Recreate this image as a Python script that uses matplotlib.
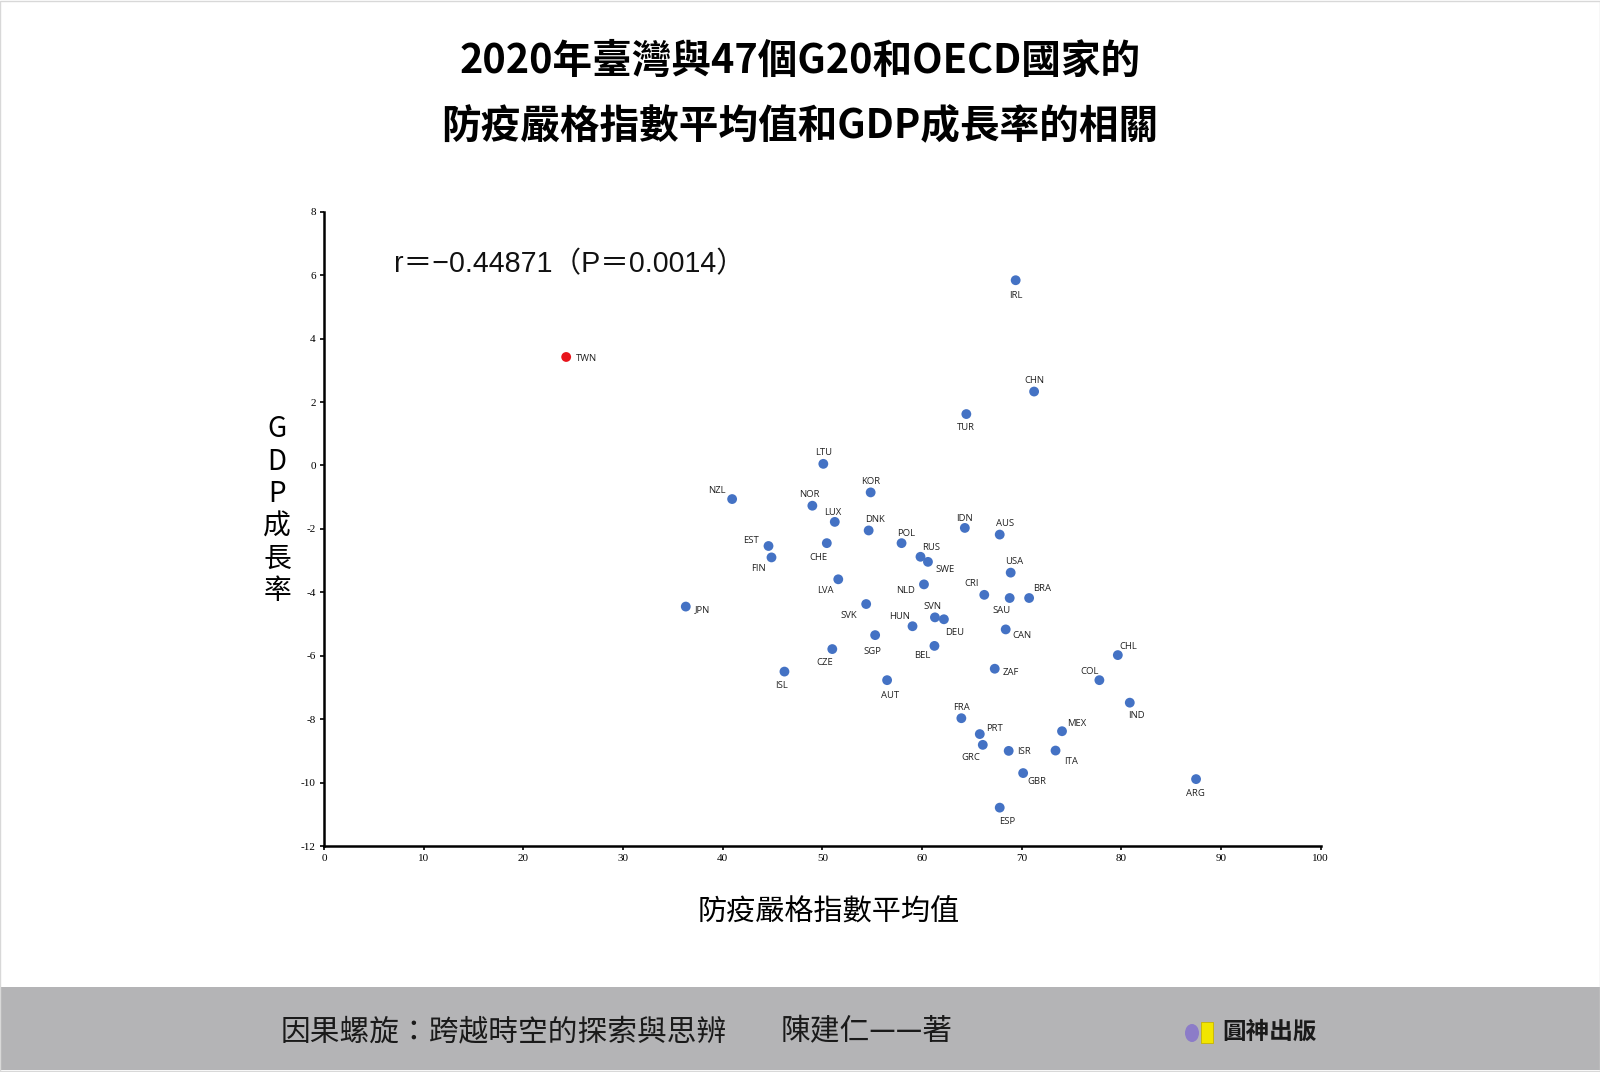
import matplotlib
matplotlib.use("Agg")
import matplotlib.pyplot as plt
from matplotlib.patches import Rectangle, Ellipse

plt.rcParams['font.family'] = ['Noto Sans CJK TC', 'DejaVu Sans']

# ---------------- data ----------------
countries = ["TWN", "NZL", "JPN", "IRL", "CHN", "TUR", "LTU", "KOR", "NOR", "LUX",
             "DNK", "IDN", "AUS", "EST", "FIN", "CHE", "POL", "RUS", "SWE", "USA",
             "LVA", "NLD", "CRI", "SAU", "BRA", "SVK", "SVN", "DEU", "HUN", "CAN",
             "SGP", "BEL", "CZE", "ZAF", "ISL", "AUT", "FRA", "PRT", "GRC", "ISR",
             "GBR", "ESP", "MEX", "ITA", "CHL", "COL", "IND", "ARG"]
stringency = [24.3, 40.95, 36.3, 69.4, 71.25, 64.45, 50.1, 54.85, 49.0, 51.25,
              54.65, 64.3, 67.8, 44.6, 44.9, 50.45, 57.95, 59.85, 60.6, 68.9,
              51.6, 60.2, 66.25, 68.8, 70.75, 54.4, 61.3, 62.2, 59.05, 68.4,
              55.3, 61.25, 51.0, 67.3, 46.2, 56.5, 63.95, 65.8, 66.1, 68.7,
              70.15, 67.8, 74.05, 73.4, 79.65, 77.8, 80.85, 87.5]
gdp_growth = [3.42, -1.06, -4.45, 5.84, 2.33, 1.62, 0.05, -0.85, -1.27, -1.78,
              -2.05, -1.97, -2.18, -2.54, -2.9, -2.45, -2.45, -2.88, -3.04, -3.38,
              -3.59, -3.75, -4.08, -4.18, -4.18, -4.37, -4.79, -4.85, -5.07, -5.17,
              -5.35, -5.69, -5.79, -6.41, -6.5, -6.77, -7.97, -8.47, -8.81, -9.0,
              -9.7, -10.79, -8.38, -8.99, -5.98, -6.77, -7.48, -9.89]
x_ticks = [0, 10, 20, 30, 40, 50, 60, 70, 80, 90, 100]
y_ticks = [-12, -10, -8, -6, -4, -2, 0, 2, 4, 6, 8]
title_lines = ["2020年臺灣與47個G20和OECD國家的", "防疫嚴格指數平均值和GDP成長率的相關"]
corr_text = "r＝−0.44871（P＝0.0014）"

# label offsets in pixels (dx, dy with dy downward)
label_offsets = {
    "TWN": (10, 2, 'left'), "NZL": (-15, -9, 'center'), "JPN": (9, 3, 'left'),
    "IRL": (0, 15, 'center'), "CHN": (0, -11, 'center'), "TUR": (0, 13, 'center'),
    "LTU": (0, -11, 'center'), "KOR": (0, -11, 'center'), "NOR": (-3, -11, 'center'),
    "LUX": (-2, -9, 'center'), "DNK": (6, -11, 'center'), "IDN": (0, -9, 'center'),
    "AUS": (5, -11, 'center'), "EST": (-18, -5, 'center'), "FIN": (-13, 11, 'center'),
    "CHE": (-8, 14, 'center'), "POL": (5, -10, 'center'), "RUS": (11, -9, 'center'),
    "SWE": (17, 8, 'center'), "USA": (4, -11, 'center'), "LVA": (-13, 11, 'center'),
    "NLD": (-18, 6, 'center'), "CRI": (-13, -11, 'center'), "SAU": (-8, 12, 'center'),
    "BRA": (13, -10, 'center'), "SVK": (-17, 11, 'center'), "SVN": (-2, -11, 'center'),
    "DEU": (11, 13, 'center'), "HUN": (-13, -10, 'center'), "CAN": (16, 6, 'center'),
    "SGP": (-3, 16, 'center'), "BEL": (-12, 10, 'center'), "CZE": (-8, 13, 'center'),
    "ZAF": (16, 4, 'center'), "ISL": (-3, 14, 'center'), "AUT": (3, 15, 'center'),
    "FRA": (0, -11, 'center'), "PRT": (15, -6, 'center'), "GRC": (-12, 13, 'center'),
    "ISR": (15, 1, 'center'), "GBR": (14, 8, 'center'), "ESP": (7, 14, 'center'),
    "MEX": (15, -8, 'center'), "ITA": (16, 11, 'center'), "CHL": (10, -9, 'center'),
    "COL": (-10, -9, 'center'), "IND": (7, 13, 'center'), "ARG": (-1, 14, 'center'),
}

# ---------------- figure ----------------
fig = plt.figure(figsize=(16, 10.72), dpi=100)
fig.patch.set_facecolor('white')

ax = fig.add_axes([0.2025, 0.2108, 0.6229, 0.5917])
ax.set_xlim(0, 100)
ax.set_ylim(-12, 8)
ax.set_xticks(x_ticks)
ax.set_yticks(y_ticks)
ax.set_xticklabels([str(v) for v in x_ticks], family='Liberation Serif', fontsize=8)
ax.set_yticklabels([str(v) for v in y_ticks], family='Liberation Serif', fontsize=8)
ax.tick_params(axis='both', direction='out', length=3, width=1.2, color='black', pad=3)
for s in ['top', 'right']:
    ax.spines[s].set_visible(False)
for s in ['left', 'bottom']:
    ax.spines[s].set_linewidth(1.8)
    ax.spines[s].set_color('black')

colors = ['#E8141B' if c == "TWN" else '#4472C4' for c in countries]
ax.scatter(stringency, gdp_growth, s=50, c=colors, zorder=3, linewidths=0)

for c, xv, yv in zip(countries, stringency, gdp_growth):
    dx, dy, ha = label_offsets[c]
    ax.annotate(c, (xv, yv), xytext=(dx, -dy), textcoords='offset pixels',
                ha=ha, va='center', fontsize=6.8, family='Open Sans', color='#222222')

ax.text(0.07, 0.917, corr_text, transform=ax.transAxes, fontsize=20.6,
        family=['Liberation Sans', 'Noto Sans CJK TC'], ha='left', va='center', color='#111111')

# titles
fig.text(0.5, 1 - 61 / 1072, title_lines[0], ha='center', va='center', fontsize=28.5, fontweight='bold')
fig.text(0.5, 1 - 127 / 1072, title_lines[1], ha='center', va='center', fontsize=28.5, fontweight='bold')

# axis labels
fig.text(829 / 1600, 1 - 913 / 1072, "防疫嚴格指數平均值", ha='center', va='center', fontsize=21)
fig.text(277 / 1600, 1 - 510 / 1072, "G\nD\nP\n成\n長\n率", ha='center', va='center',
         fontsize=20, linespacing=1.1)

# footer band
fig.patches.append(Rectangle((0, 2 / 1072), 1, (1072 - 987 - 2) / 1072,
                             transform=fig.transFigure, facecolor='#B4B4B6', edgecolor='none', zorder=0))
fig.text(281 / 1600, 1 - 1032 / 1072, "因果螺旋：跨越時空的探索與思辨",
         ha='left', va='center', fontsize=21.4, color='#1a1a1a')
fig.text(781 / 1600, 1 - 1032 / 1072, "陳建仁——著",
         ha='left', va='center', fontsize=21.4, color='#1a1a1a')
fig.patches.append(Ellipse((1192 / 1600, 1 - 1033 / 1072), 14 / 1600, 18 / 1072,
                           transform=fig.transFigure, facecolor='#8C7CC8', edgecolor='none', zorder=2))
fig.patches.append(Rectangle((1201 / 1600, 1 - 1043 / 1072), 12 / 1600, 21 / 1072,
                             transform=fig.transFigure, facecolor='#F2E600', edgecolor='#C8B400',
                             linewidth=0.6, zorder=2))
fig.text(1222 / 1600, 1 - 1032 / 1072, "圓神出版", ha='left', va='center', fontsize=17,
         fontweight='bold', color='#1a1a1a')

# thin outer border
fig.patches.append(Rectangle((0.0003, 0.0005), 0.9994, 0.999, transform=fig.transFigure,
                             facecolor='none', edgecolor='#D8D8D8', linewidth=1, zorder=5))

fig.savefig("out.png", dpi=100, facecolor='white')
